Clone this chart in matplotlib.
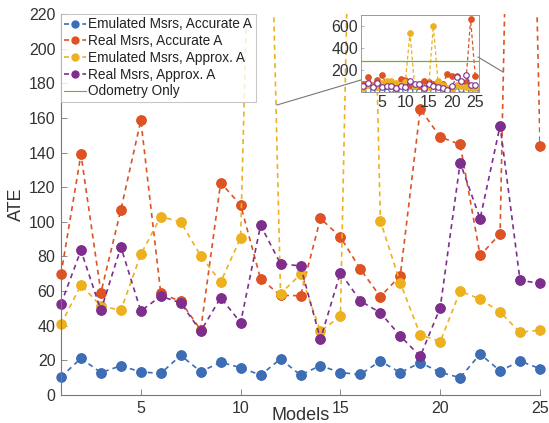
import matplotlib
matplotlib.use('Agg')
import matplotlib.pyplot as plt
from matplotlib.lines import Line2D
import numpy as np

plt.rcParams['font.family'] = ['Liberation Sans', 'DejaVu Sans']

# Data
models = np.arange(1, 26)
emu_acc = [10.4, 21.2, 12.9, 16.9, 13.3, 12.5, 22.9, 13.5, 18.9, 15.8, 11.5, 20.8, 11.5,
           17.0, 12.9, 11.9, 19.6, 12.9, 18.7, 13.1, 10.0, 23.7, 13.9, 19.6, 15.2]
real_acc = [69.7, 139.0, 59.1, 107.0, 158.6, 58.7, 54.0, 37.5, 122.6, 109.7, 67.0, 57.6, 57.3,
            102.0, 91.2, 72.7, 56.8, 68.9, 165.1, 149.0, 144.7, 80.6, 93.0, 660.0, 144.0]
emu_approx = [40.8, 63.5, 51.4, 48.9, 81.2, 103.0, 99.9, 80.4, 65.2, 90.8, 535.0, 58.5, 69.7,
              36.8, 45.4, 600.0, 100.7, 64.7, 34.8, 30.8, 60.0, 55.4, 47.9, 36.2, 37.5]
real_approx = [52.6, 83.5, 48.9, 85.5, 48.5, 57.1, 53.1, 36.8, 56.2, 41.8, 98.0, 75.8, 74.5,
               32.2, 70.6, 54.3, 47.5, 34.1, 22.3, 50.4, 134.1, 101.8, 155.5, 66.2, 64.5]
odometry = 280.0

labels = ['Emulated Msrs, Accurate A', 'Real Msrs, Accurate A',
          'Emulated Msrs, Approx. A', 'Real Msrs, Approx. A', 'Odometry Only']
colors = ['#3D6DB5', '#DD5324', '#EDB120', '#7E2F8E', '#77AC30']
series = [emu_acc, real_acc, emu_approx, real_approx]
ymax = 220

W, H = 549, 423
fig = plt.figure(figsize=(W / 100, H / 100), dpi=100)
ax = fig.add_axes([61 / W, 1 - 395 / H, 479 / W, 381 / H])

# Plotting: dashed lines clipped to the axes, dots allowed to sit over the edges
for vals, c, lab in zip(series, colors, labels):
    ax.plot(models, vals, linestyle=(0, (3, 2.5)), color=c, lw=1.2, marker='o',
            markersize=6.5, markeredgecolor=c, label=lab)
    v = np.array(vals)
    keep = v <= ymax
    ax.plot(models[keep], v[keep], linestyle='none', marker='o', markersize=6.5,
            color=c, clip_on=False)
ax.axhline(odometry, color=colors[4], lw=0.8, label=labels[4])

# Customization
ax.set_xlim(1, 25)
ax.set_ylim(0, ymax)
ax.set_xticks([5, 10, 15, 20, 25])
ax.set_yticks(np.arange(0, 221, 20))
for s in ['top', 'right']:
    ax.spines[s].set_visible(False)
for s in ['left', 'bottom']:
    ax.spines[s].set_color('#777777')
    ax.spines[s].set_linewidth(0.8)
ax.tick_params(direction='in', length=4, width=0.6, color='#777777',
               labelsize=11.5, labelcolor='#333333', pad=4)
ax.set_xlabel('Models', fontsize=13, color='#333333', labelpad=-6)
ax.set_ylabel('ATE', fontsize=13, color='#333333', labelpad=3)

leg = ax.legend(loc='upper left', bbox_to_anchor=(0, 1), borderaxespad=0,
                fontsize=9.8, frameon=True, fancybox=False, numpoints=1,
                handlelength=1.6, handletextpad=0.15, labelspacing=0.2,
                borderpad=0.25)
leg.get_frame().set_edgecolor('#bbbbbb')
leg.get_frame().set_linewidth(0.8)
leg.set_zorder(5)
for t in leg.get_texts():
    t.set_color('#222222')
for h in leg.legend_handles[:4]:
    h.set_markersize(5)

# Zoomed-out inset with the full range
ins = fig.add_axes([361 / W, 1 - 92 / H, 118 / W, 77 / H])
for i, (vals, c) in enumerate(zip(series, colors)):
    face = 'white' if i in (0, 3) else c
    ins.plot(models, vals, linestyle=(0, (3, 2)), color=c, lw=0.9, marker='o',
             markersize=4, markerfacecolor=face, markeredgecolor=c, markeredgewidth=0.8)
ins.axhline(odometry, color=colors[4], lw=0.9)
ins.set_xlim(0.5, 25.8)
ins.set_ylim(0, 700)
ins.set_xticks([5, 10, 15, 20, 25])
ins.set_yticks([200, 400, 600])
for s in ins.spines.values():
    s.set_color('#999999')
    s.set_linewidth(0.7)
ins.tick_params(direction='in', length=2, width=0.5, color='#999999',
                labelsize=11.5, labelcolor='#333333', pad=2)

# Connector lines between main axes and inset
fig.add_artist(Line2D([277 / W, 361 / W], [1 - 105 / H, 1 - 80 / H],
                      transform=fig.transFigure, color='#777777', lw=0.8))
fig.add_artist(Line2D([478 / W, 503 / W], [1 - 57 / H, 1 - 72 / H],
                      transform=fig.transFigure, color='#777777', lw=0.8))

fig.savefig('out.png', dpi=100)
